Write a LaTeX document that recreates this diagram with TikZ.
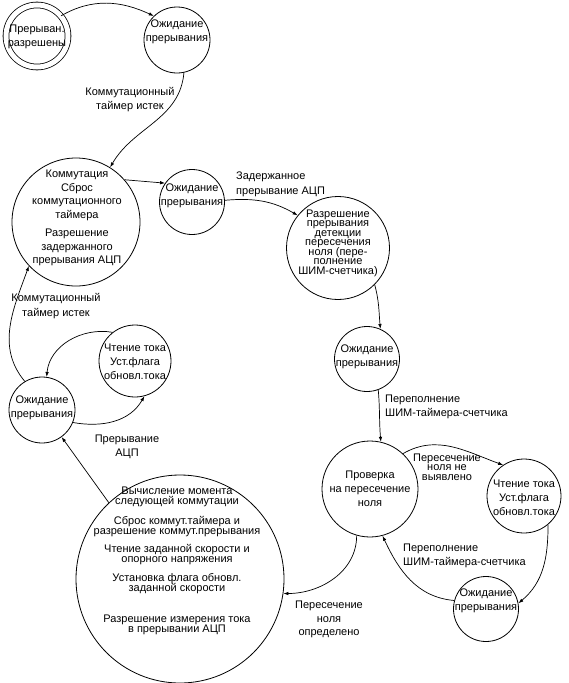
\documentclass[tikz,border=0pt]{standalone}
\usepackage{fontspec}
\setmainfont{Liberation Sans}
\usetikzlibrary{arrows.meta}

\newcommand{\lblfont}[1]{\fontsize{11}{#1}\selectfont\lineskiplimit=-20pt}

\begin{document}
\begin{tikzpicture}[x=1pt, y=1pt,
  state/.style={circle, draw, line width=0.8pt, inner sep=0pt},
  wait/.style={state, minimum size=65pt},
  txt/.style={inner sep=0pt, align=center, font=\lblfont{13.5}},
  lbl/.style={inner sep=0pt, align=left, anchor=west, font=\lblfont{14.5}},
  arr/.style={-{Latex[length=5pt,width=3.5pt]}, line width=0.7pt}
]
\useasboundingbox (0,0) rectangle (568,-683);

% states
\node[state, double, double distance=5pt, minimum size=62pt] (start) at (37,-36) {};
\node[txt] (starttxt) at (37,-37) {Прерыван.\\разрешены};
\node[wait, minimum size=66pt] (wait1) at (177,-40) {};
\node[txt] (wait1txt) at (177,-32) {Ожидание\\прерывания};
\node[state, minimum size=128pt] (komm) at (76,-222) {};
\node[txt, font=\lblfont{13.7}] (kommtxt) at (77,-218) {Коммутация\\Сброс\\коммутационного\\таймера\\[4.3pt]Разрешение\\задержанного\\прерывания АЦП};
\node[wait] (wait2) at (192,-202) {};
\node[txt] (wait2txt) at (192,-196) {Ожидание\\прерывания};
\node[state, minimum size=103pt] (enable) at (338,-248) {};
\node[txt, font=\lblfont{9.5}] (enabletxt) at (338,-243) {Разрешение\\прерывания\\детекции\\пересечения\\ноля (пере-\\полнение\\ШИМ-счетчика)};
\node[wait] (wait3) at (367,-359) {};
\node[txt] (wait3txt) at (367,-357) {Ожидание\\прерывания};
\node[state, minimum size=96pt] (check) at (370,-489) {};
\node[txt, font=\lblfont{14}] (checktxt) at (370,-489) {Проверка\\на пересечение\\ноля};
\node[state, minimum size=74pt] (readR) at (524,-496) {};
\node[txt, font=\lblfont{14}] (readRtxt) at (524,-498) {Чтение тока\\Уст.флага\\обновл.тока};
\node[wait] (wait4) at (486,-609) {};
\node[txt] (wait4txt) at (486,-601) {Ожидание\\прерывания};
\node[state, minimum size=208pt] (calc) at (180,-579) {};
\node[txt, font=\lblfont{10}] (calctxt) at (177,-561) {Вычисление момента\\следующей коммутации\\[10pt]Сброс коммут.таймера и\\разрешение коммут.прерывания\\[8pt]Чтение заданной скорости и\\опорного напряжения\\[9pt]Установка флага обновл.\\заданной скорости\\[21pt]Разрешение измерения тока\\в прерывании АЦП};
\node[wait, minimum size=66pt] (wait5) at (42,-410) {};
\node[txt] (wait5txt) at (42,-408) {Ожидание\\прерывания};
\node[state, minimum size=72pt] (readL) at (135,-361) {};
\node[txt, font=\lblfont{14}] (readLtxt) at (135,-362) {Чтение тока\\Уст.флага\\обновл.тока};

% labels
\node[txt, font=\lblfont{14.5}] (timer1) at (130,-99.5) {Коммутационный\\таймер истек};
\node[txt, font=\lblfont{15}] (timer2) at (56,-306.5) {Коммутационный\\таймер истек};
\node[lbl] (adcdelay) at (236,-184.5) {Задержанное\\прерывание АЦП};
\node[lbl, font=\lblfont{14}] (pwm1) at (385,-407) {Переполнение\\ШИМ-таймера-счетчика};
\node[txt, font=\lblfont{9.7}] (nozero) at (447,-467) {Пересечение\\ноля не\\выявлено};
\node[lbl, font=\lblfont{14}] (pwm2) at (403,-556) {Переполнение\\ШИМ-таймера-счетчика};
\node[txt] (zero) at (329,-619.5) {Пересечение\\ноля\\определено};
\node[txt, font=\lblfont{14}] (adcint) at (127,-447) {Прерывание\\АЦП};

% transitions
\draw[arr] (start.40) to[out=30, in=155] (wait1.134);
\draw[arr] (wait1.-78) to[out=-95, in=60] (komm.58);
\draw[arr] (komm.41) -- (wait2.145);
\draw[arr] (wait2.3) to[out=5, in=150] (enable.141);
\draw[arr] (enable.-45) to[out=-75, in=95] (wait3.66);
\draw[arr] (wait3.-70) to[out=-85, in=95] (check.77);
\draw[arr] (check.47) to[out=30, in=160] (readR.124);
\draw[arr] (readR.-50) to[out=-90, in=40] (wait4.10);
\draw[arr] (wait4.165) to[out=175, in=-65] (check.-75);
\draw[arr] (check.-106) to[out=-90, in=0] (calc.-8);
\draw[arr] (calc.133) -- (wait5.-54);
\draw[arr] (wait5.-22) to[out=-10, in=-120] (readL.-75);
\draw[arr] (readL.128) to[out=170, in=85] (wait5.82);
\draw[arr] (wait5.121) to[out=130, in=-110] (komm.-137);
\end{tikzpicture}
\end{document}
